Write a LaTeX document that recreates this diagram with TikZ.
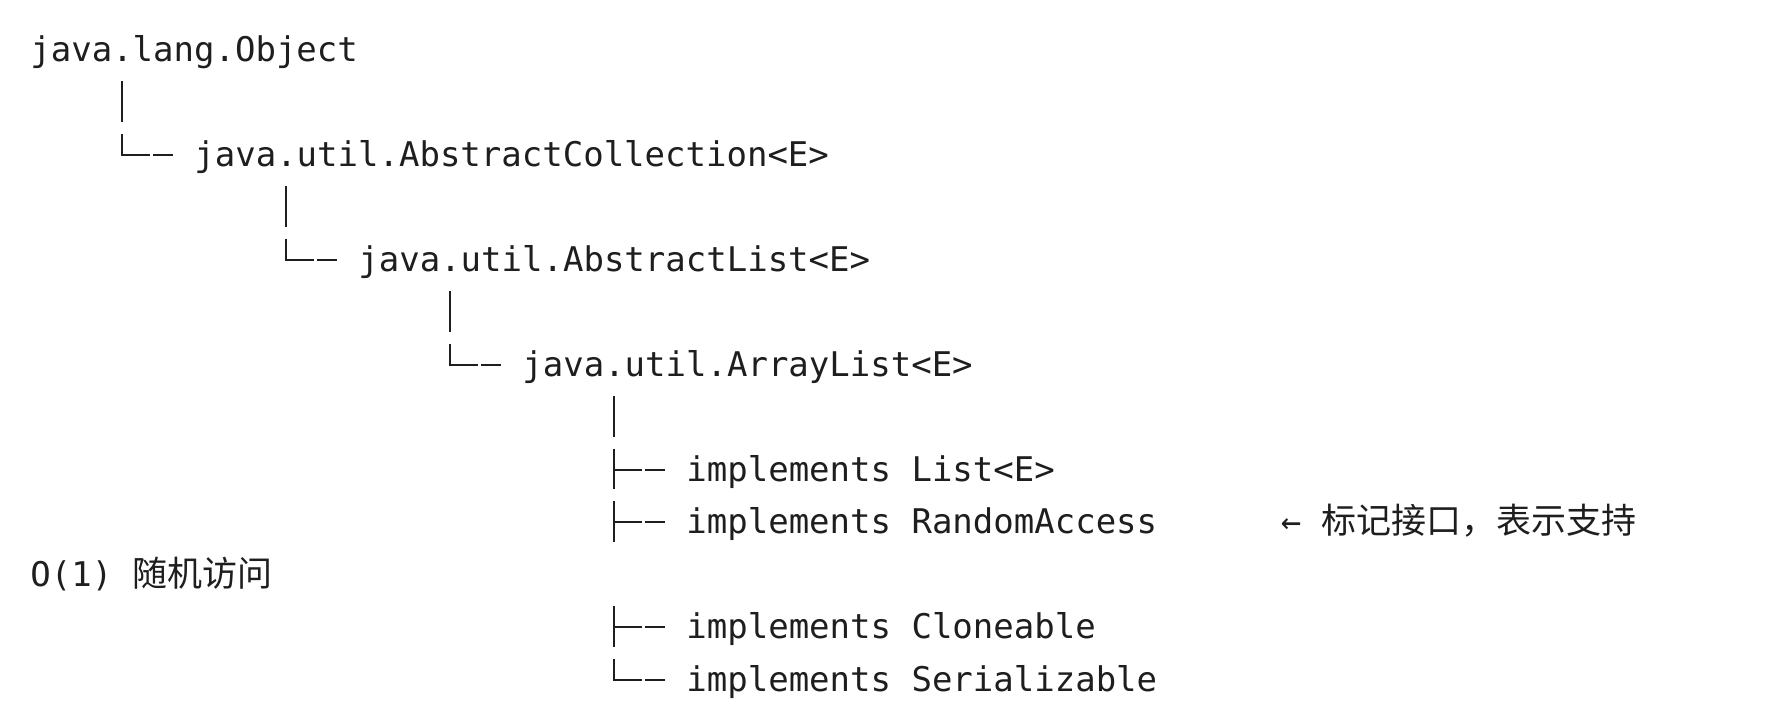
\documentclass[tikz,border=0pt]{standalone}
\usepackage{fontspec}
\newfontfamily\codefont{DejaVu Sans Mono}
\newfontfamily\cjkfont{Noto Sans CJK SC}
\newcommand{\zh}[1]{{\cjkfont\fontsize{17.5}{20}\selectfont #1}}
\definecolor{Tinta}{RGB}{30,30,30}

\begin{document}
\begin{tikzpicture}[x=0.5pt, y=-0.5pt,
    code/.style={anchor=base west, inner sep=0pt, text=Tinta, font=\codefont\fontsize{17}{20}\selectfont},
    rama/.style={draw=Tinta, line width=1pt}
  ]
    \useasboundingbox (0,0) rectangle (1765,725);
    \node[code] (obj) at (30,61) {java.lang.Object};
    \node[code] (coll) at (194,166) {java.util.AbstractCollection<E>};
    \node[code] (alist) at (358,271) {java.util.AbstractList<E>};
    \node[code] (arr) at (522,376) {java.util.ArrayList<E>};
    \node[code] (ilist) at (686,481) {implements List<E>};
    \node[code] (irand) at (686,533.5) {implements RandomAccess};
    \node[code] (nota) at (1280.5,533.5) {← \zh{标记接口，表示支持}};
    \node[code] (nota2) at (30,586) {O(1) \zh{随机访问}};
    \node[code] (iclone) at (686,638.5) {implements Cloneable};
    \node[code] (iser) at (686,691) {implements Serializable};

    \draw[rama] ([shift={(92.25,20)}]obj.base west) -- ([shift={(92.25,60.7)}]obj.base west);
    \draw[rama] ([shift={(-71.75,-32.5)}]coll.base west) |- ([shift={(-44,-11.5)}]coll.base west);
    \draw[rama] ([shift={(-41,-11.5)}]coll.base west) -- ([shift={(-21,-11.5)}]coll.base west);

    \draw[rama] ([shift={(92.25,20)}]coll.base west) -- ([shift={(92.25,60.7)}]coll.base west);
    \draw[rama] ([shift={(-71.75,-32.5)}]alist.base west) |- ([shift={(-44,-11.5)}]alist.base west);
    \draw[rama] ([shift={(-41,-11.5)}]alist.base west) -- ([shift={(-21,-11.5)}]alist.base west);

    \draw[rama] ([shift={(92.25,20)}]alist.base west) -- ([shift={(92.25,60.7)}]alist.base west);
    \draw[rama] ([shift={(-71.75,-32.5)}]arr.base west) |- ([shift={(-44,-11.5)}]arr.base west);
    \draw[rama] ([shift={(-41,-11.5)}]arr.base west) -- ([shift={(-21,-11.5)}]arr.base west);

    \draw[rama] ([shift={(92.25,20)}]arr.base west) -- ([shift={(92.25,60.7)}]arr.base west);
    \draw[rama] ([shift={(-71.75,-32.5)}]ilist.base west) -- ([shift={(-71.75,8.2)}]ilist.base west);
    \draw[rama] ([shift={(-71.75,-11.5)}]ilist.base west) -- ([shift={(-44,-11.5)}]ilist.base west);
    \draw[rama] ([shift={(-41,-11.5)}]ilist.base west) -- ([shift={(-21,-11.5)}]ilist.base west);
    \draw[rama] ([shift={(-71.75,-32.5)}]irand.base west) -- ([shift={(-71.75,8.2)}]irand.base west);
    \draw[rama] ([shift={(-71.75,-11.5)}]irand.base west) -- ([shift={(-44,-11.5)}]irand.base west);
    \draw[rama] ([shift={(-41,-11.5)}]irand.base west) -- ([shift={(-21,-11.5)}]irand.base west);
    \draw[rama] ([shift={(-71.75,-32.5)}]iclone.base west) -- ([shift={(-71.75,8.2)}]iclone.base west);
    \draw[rama] ([shift={(-71.75,-11.5)}]iclone.base west) -- ([shift={(-44,-11.5)}]iclone.base west);
    \draw[rama] ([shift={(-41,-11.5)}]iclone.base west) -- ([shift={(-21,-11.5)}]iclone.base west);
    \draw[rama] ([shift={(-71.75,-32.5)}]iser.base west) |- ([shift={(-44,-11.5)}]iser.base west);
    \draw[rama] ([shift={(-41,-11.5)}]iser.base west) -- ([shift={(-21,-11.5)}]iser.base west);
  \end{tikzpicture}
\end{document}
